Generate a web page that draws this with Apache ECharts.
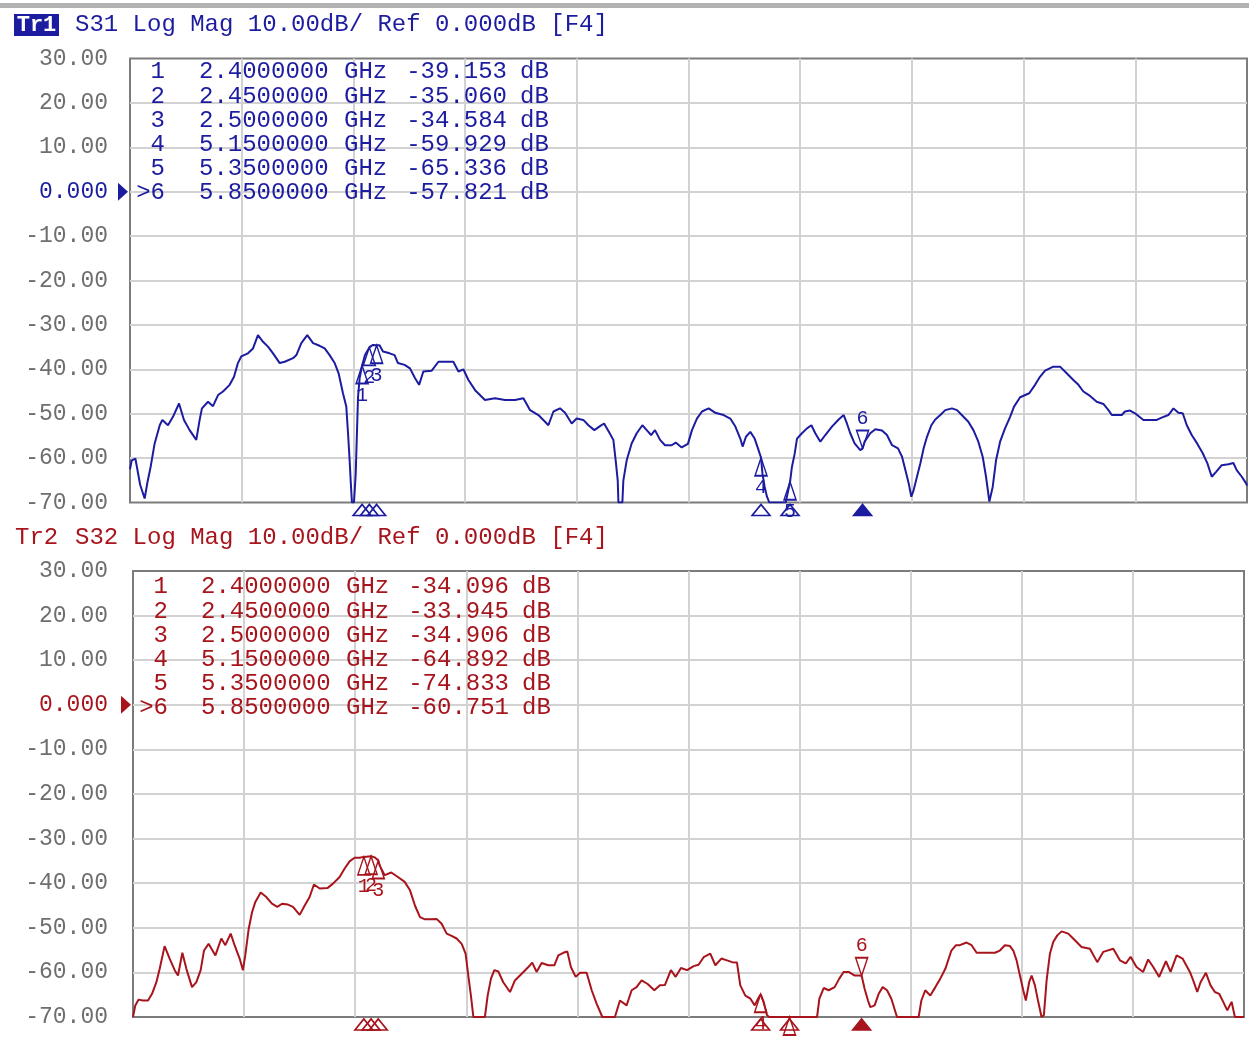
<!DOCTYPE html>
<html><head><meta charset="utf-8">
<script src="https://cdn.jsdelivr.net/npm/echarts@6/dist/echarts.min.js"></script>
<style>html,body{margin:0;padding:0;background:#fff;}#c{width:1249px;height:1039px;}</style>
</head><body><div id="c"></div>
<script>
// ---------------- DATA ----------------
const freqStartGHz = 0.8, freqStopGHz = 8.5;
const yTicks = [30, 20, 10, 0, -10, -20, -30, -40, -50, -60, -70];

const markerLabels = ['1', '2', '3', '4', '5', '>6'];
const markerFreqs = [2.40, 2.45, 2.50, 5.15, 5.35, 5.85];
const s31MarkerDb = [-39.153, -35.060, -34.584, -59.929, -65.336, -57.821];
const s32MarkerDb = [-34.096, -33.945, -34.906, -64.892, -74.833, -60.751];

const s31Freq = [0.800,0.812,0.837,0.870,0.901,0.920,0.942,0.970,1.005,1.023,1.062,1.096,1.138,1.172,1.211,1.257,1.280,1.296,1.338,1.372,1.407,1.441,1.487,1.517,1.544,1.567,1.613,1.648,1.682,1.717,1.751,1.786,1.832,1.866,1.924,1.947,1.981,2.022,2.062,2.107,2.142,2.176,2.211,2.238,2.268,2.291,2.303,2.314,2.321,2.330,2.344,2.356,2.365,2.372,2.383,2.400,2.420,2.450,2.475,2.500,2.520,2.544,2.590,2.624,2.647,2.693,2.730,2.765,2.793,2.822,2.880,2.926,3.029,3.064,3.098,3.133,3.179,3.247,3.316,3.385,3.454,3.512,3.558,3.615,3.661,3.684,3.719,3.764,3.799,3.845,3.879,3.925,3.960,4.001,4.040,4.068,4.102,4.132,4.148,4.162,4.167,4.194,4.201,4.224,4.258,4.293,4.332,4.362,4.392,4.419,4.454,4.488,4.534,4.562,4.603,4.646,4.674,4.708,4.743,4.789,4.835,4.892,4.938,4.973,5.007,5.023,5.046,5.076,5.106,5.129,5.150,5.160,5.175,5.191,5.207,5.294,5.320,5.350,5.363,5.382,5.398,5.432,5.467,5.497,5.524,5.559,5.593,5.639,5.685,5.720,5.742,5.765,5.795,5.834,5.850,5.864,5.903,5.938,5.984,6.018,6.053,6.094,6.122,6.145,6.168,6.186,6.202,6.225,6.248,6.271,6.294,6.324,6.351,6.386,6.420,6.466,6.501,6.522,6.579,6.614,6.648,6.678,6.701,6.724,6.747,6.770,6.798,6.832,6.867,6.894,6.936,6.999,7.039,7.073,7.108,7.165,7.211,7.257,7.303,7.338,7.372,7.418,7.464,7.510,7.545,7.568,7.637,7.659,7.694,7.728,7.786,7.878,7.912,7.958,7.993,8.027,8.057,8.085,8.119,8.158,8.195,8.227,8.257,8.287,8.326,8.372,8.406,8.429,8.464,8.494,8.500];
const s31Db = [-62.5,-60.5,-60.1,-66.0,-69.1,-65.5,-62.0,-56.7,-52.6,-51.4,-52.6,-50.7,-47.7,-51.4,-53.7,-55.9,-51.4,-48.8,-47.3,-48.3,-45.8,-45.0,-43.5,-41.7,-38.6,-37.1,-36.4,-35.3,-32.3,-33.8,-34.9,-36.4,-38.6,-38.3,-37.5,-36.8,-34.1,-32.3,-34.1,-34.7,-35.3,-36.8,-38.6,-40.9,-45.4,-48.4,-54.4,-60.5,-65.0,-70,-70,-63.5,-53.7,-46.2,-42.0,-39.15,-36.8,-35.06,-34.5,-34.58,-34.6,-36.0,-36.4,-36.8,-38.6,-39.0,-39.8,-42.0,-43.5,-40.5,-40.3,-38.3,-38.3,-40.5,-40.0,-42.4,-44.7,-46.9,-46.5,-46.9,-46.9,-46.5,-49.2,-50.3,-51.8,-52.6,-49.5,-48.8,-49.8,-52.2,-51.1,-51.4,-52.6,-53.7,-52.8,-52.2,-54.1,-55.9,-60.5,-65.0,-70,-70,-65.0,-60.5,-56.7,-54.4,-52.6,-53.7,-54.8,-53.7,-55.9,-57.1,-57.1,-56.5,-57.6,-56.8,-53.7,-51.1,-49.5,-48.8,-49.8,-50.3,-51.1,-52.9,-55.6,-57.4,-55.2,-54.1,-55.6,-57.8,-59.93,-63.5,-66.5,-68.7,-70,-70,-70,-65.34,-62.0,-59.0,-55.6,-54.4,-53.3,-52.6,-54.4,-56.3,-54.8,-52.9,-51.3,-50.3,-52.2,-54.4,-56.7,-58.2,-57.82,-56.3,-54.4,-53.5,-53.8,-54.8,-57.1,-57.8,-59.7,-62.7,-65.7,-68.7,-67.2,-64.2,-61.2,-57.8,-55.2,-52.6,-51.3,-50.3,-49.2,-48.8,-49.2,-49.9,-51.8,-53.7,-56.3,-59.7,-64.2,-69.8,-66.5,-60.5,-56.3,-53.3,-50.7,-48.4,-46.3,-45.4,-43.5,-41.7,-40.3,-39.4,-39.4,-40.9,-42.4,-43.5,-45.0,-46.0,-47.3,-47.8,-49.2,-50.3,-50.3,-49.5,-49.3,-49.9,-51.4,-51.4,-50.9,-50.3,-48.8,-49.8,-49.9,-52.6,-54.8,-56.8,-58.9,-61.2,-64.2,-63.1,-61.6,-61.4,-61.1,-62.7,-64.2,-65.7,-66.2];

const s32Freq = [0.800,0.816,0.839,0.869,0.904,0.932,0.962,0.985,1.019,1.054,1.089,1.112,1.142,1.170,1.209,1.239,1.269,1.292,1.324,1.371,1.412,1.440,1.477,1.504,1.539,1.562,1.578,1.602,1.625,1.648,1.685,1.724,1.763,1.800,1.833,1.874,1.909,1.955,1.990,2.024,2.054,2.094,2.147,2.186,2.232,2.267,2.301,2.336,2.370,2.400,2.450,2.475,2.500,2.509,2.544,2.590,2.636,2.683,2.720,2.754,2.789,2.824,2.870,2.904,2.939,2.974,3.008,3.043,3.078,3.105,3.124,3.142,3.159,3.239,3.258,3.281,3.304,3.332,3.366,3.413,3.447,3.494,3.540,3.567,3.597,3.632,3.678,3.720,3.748,3.782,3.810,3.835,3.868,3.898,3.944,3.979,4.013,4.053,4.140,4.175,4.221,4.256,4.290,4.325,4.367,4.413,4.452,4.487,4.528,4.561,4.598,4.640,4.686,4.720,4.755,4.801,4.836,4.878,4.917,4.952,4.986,5.009,5.044,5.079,5.109,5.132,5.150,5.171,5.194,5.210,5.350,5.541,5.557,5.587,5.621,5.663,5.695,5.725,5.760,5.802,5.829,5.850,5.871,5.894,5.910,5.940,5.968,5.996,6.026,6.056,6.095,6.245,6.264,6.291,6.326,6.361,6.395,6.430,6.472,6.504,6.531,6.577,6.612,6.647,6.704,6.774,6.808,6.843,6.878,6.901,6.924,6.947,6.970,6.988,7.011,7.028,7.051,7.074,7.097,7.113,7.132,7.155,7.178,7.206,7.236,7.282,7.328,7.374,7.432,7.483,7.524,7.594,7.640,7.681,7.714,7.755,7.801,7.836,7.871,7.912,7.959,7.991,8.033,8.074,8.125,8.148,8.176,8.199,8.236,8.268,8.298,8.328,8.356,8.384,8.414,8.437,8.500];
const s32Db = [-70,-67.4,-66.1,-66.3,-66.3,-64.8,-62.2,-59.2,-54.1,-56.9,-59.5,-60.7,-55.6,-59.2,-63.3,-62.2,-59.5,-55.1,-53.6,-56.2,-52.4,-53.9,-51.3,-53.9,-56.9,-59.5,-56.2,-50.2,-46.5,-44.2,-42.1,-43.1,-44.6,-45.3,-44.6,-44.8,-45.3,-47.1,-45.0,-43.1,-40.3,-41.2,-41.1,-40.1,-38.6,-36.7,-35.1,-34.3,-34.3,-34.10,-33.95,-34.2,-34.91,-36.0,-38.2,-37.6,-38.6,-39.7,-41.6,-45.0,-47.6,-48.1,-48.1,-48.0,-49.1,-51.3,-51.8,-52.4,-53.6,-55.8,-60.7,-65.2,-70,-70,-65.2,-61.4,-59.5,-59.8,-62.2,-64.4,-61.8,-60.3,-58.8,-57.8,-59.9,-57.9,-58.4,-58.4,-56.2,-55.6,-55.3,-58.8,-61.0,-60.1,-60.1,-64.0,-67.0,-70,-70,-66.3,-67.4,-64.0,-63.3,-61.8,-62.6,-64.0,-62.9,-62.8,-59.5,-61.0,-59.0,-59.5,-58.6,-58.3,-56.6,-55.8,-58.4,-56.9,-57.3,-57.7,-57.8,-62.9,-65.2,-65.9,-67.4,-65.9,-64.89,-66.6,-69.6,-70,-70,-70,-65.9,-63.5,-64.0,-63.3,-61.4,-59.9,-59.9,-60.7,-60.7,-60.75,-63.7,-66.3,-67.8,-67.4,-64.8,-63.3,-64.0,-65.9,-70,-70,-66.3,-64.0,-65.2,-63.3,-61.4,-59.2,-55.1,-53.9,-53.9,-53.3,-53.9,-55.6,-55.6,-55.6,-55.1,-53.9,-54.1,-55.1,-57.3,-60.7,-64.0,-66.3,-62.2,-60.7,-62.9,-66.6,-70,-69.6,-61.8,-55.8,-53.2,-51.7,-50.8,-51.3,-52.8,-54.3,-54.7,-57.7,-55.4,-54.7,-57.3,-58.0,-56.5,-58.8,-59.9,-57.1,-58.8,-61.0,-57.5,-59.9,-56.2,-56.9,-59.9,-61.8,-64.4,-62.2,-60.1,-62.9,-64.4,-64.8,-66.6,-68.5,-66.6,-70,-70];

// ---------------- STYLE / LAYOUT ----------------
const MONO = '"Liberation Mono", "DejaVu Sans Mono", monospace';
const BLUE = '#1c1ca0', RED = '#a8141c', GRAY = '#6e6e6e';
const panels = [
  { grid: {left: 130, top: 58.5, width: 1117, height: 444}, color: BLUE, tr: 'Tr1', trBox: true,
    title: 'S31 Log Mag 10.00dB/ Ref 0.000dB [F4]', titleX: 75, headerY: 25,
    freqs: s31Freq, db: s31Db, mk: s31MarkerDb,
    tableTop: 72, numRight: 165, freqLeft: 199, ghzLeft: 344, valRight: 507, dbLeft: 520, labelMargin: 22 },
  { grid: {left: 133, top: 571, width: 1111, height: 446}, color: RED, tr: 'Tr2', trBox: false,
    title: 'S32 Log Mag 10.00dB/ Ref 0.000dB [F4]', titleX: 75, headerY: 538,
    freqs: s32Freq, db: s32Db, mk: s32MarkerDb,
    tableTop: 587, numRight: 168, freqLeft: 201, ghzLeft: 346, valRight: 509, dbLeft: 522, labelMargin: 25 }
];

const UP = 'path://M5,0 L10,16 L0,16 Z';
const DOWN = 'path://M0,0 L10,0 L5,16 Z';

const grids = [], xAxes = [], yAxes = [], series = [];
panels.forEach((p, i) => {
  grids.push(Object.assign({show: true, borderColor: '#7c7c7c', borderWidth: 2, backgroundColor: '#fff'}, p.grid));
  xAxes.push({type: 'value', gridIndex: i, min: freqStartGHz, max: freqStopGHz,
    axisLine: {show: false}, axisTick: {show: false}, axisLabel: {show: false}, splitLine: {show: false}});
  xAxes.push({type: 'value', gridIndex: i, min: 0, max: 10, interval: 1,
    axisLine: {show: false}, axisTick: {show: false}, axisLabel: {show: false},
    splitLine: {show: true, showMinLine: false, showMaxLine: false, lineStyle: {color: '#d2d2d2', width: 2}}});
  yAxes.push({type: 'value', gridIndex: i, min: yTicks[yTicks.length - 1], max: yTicks[0], interval: 10,
    axisLine: {show: false}, axisTick: {show: false},
    splitLine: {show: true, showMinLine: false, showMaxLine: false, lineStyle: {color: '#d2d2d2', width: 2}},
    axisLabel: {margin: p.labelMargin, fontFamily: MONO, fontSize: 23, color: GRAY,
      formatter: v => v === 0 ? '{ref|0.000}' : v.toFixed(2),
      rich: {ref: {fontFamily: MONO, fontSize: 23, color: p.color}}}});

  series.push({type: 'line', xAxisIndex: 2 * i, yAxisIndex: i, showSymbol: false, clip: true,
    data: p.freqs.map((f, j) => [f, p.db[j]]), lineStyle: {color: p.color, width: 2}, z: 3});

  const lblStyle = {show: true, fontFamily: MONO, fontSize: 20, color: p.color, distance: 1};
  const openStyle = {color: 'rgba(0,0,0,0)', borderColor: p.color, borderWidth: 1.6, opacity: 1};
  series.push({type: 'scatter', xAxisIndex: 2 * i, yAxisIndex: i, clip: false, z: 4,
    symbol: UP, symbolSize: [12, 18], symbolOffset: [0, 9], itemStyle: openStyle,
    label: Object.assign({position: 'bottom', formatter: d => d.data.name}, lblStyle),
    data: markerFreqs.slice(0, 5).map((f, k) => ({name: markerLabels[k], value: [f, Math.max(p.mk[k], -70)]}))});
  series.push({type: 'scatter', xAxisIndex: 2 * i, yAxisIndex: i, clip: false, z: 4,
    symbol: DOWN, symbolSize: [12, 18], symbolOffset: [0, -9], itemStyle: openStyle,
    label: Object.assign({position: 'top', formatter: '6'}, lblStyle),
    data: [{value: [markerFreqs[5], Math.max(p.mk[5], -70)]}]});
  series.push({type: 'scatter', xAxisIndex: 2 * i, yAxisIndex: i, clip: false, z: 4,
    symbol: UP, symbolSize: [18, 11], symbolOffset: [0, 7.5], itemStyle: openStyle,
    data: markerFreqs.map((f, k) => k === 5
      ? {value: [f, -70], itemStyle: {color: p.color, borderColor: p.color, opacity: 1}}
      : {value: [f, -70]})});
});

const chart = echarts.init(document.getElementById('c'));
chart.setOption({animation: false, grid: grids, xAxis: xAxes, yAxis: yAxes, series: series});

// ---------------- TEXT / DECORATION ----------------
const graphics = [];
graphics.push({type: 'rect', shape: {x: 0, y: 3, width: 1249, height: 5}, style: {fill: '#b2b2b2'}});
panels.forEach((p, i) => {
  if (p.trBox) {
    graphics.push({type: 'rect', shape: {x: 14, y: 14, width: 45, height: 22}, style: {fill: p.color}});
    graphics.push({type: 'text', x: 36.5, y: p.headerY, style: {text: p.tr, fill: '#fff', font: 'bold 22px ' + MONO, textAlign: 'center', textVerticalAlign: 'middle'}});
  } else {
    graphics.push({type: 'text', x: 15, y: p.headerY, style: {text: p.tr, fill: p.color, font: '24px ' + MONO, textAlign: 'left', textVerticalAlign: 'middle'}});
  }
  graphics.push({type: 'text', x: p.titleX, y: p.headerY, style: {text: p.title, fill: p.color, font: '24px ' + MONO, textAlign: 'left', textVerticalAlign: 'middle'}});
  markerLabels.forEach((m, r) => {
    const y = p.tableTop + r * 24.2;
    const f = '24px ' + MONO;
    const t = (x, s, a) => graphics.push({type: 'text', x: x, y: y, z: 10, style: {text: s, fill: p.color, font: f, textAlign: a, textVerticalAlign: 'middle'}});
    t(p.numRight, m, 'right');
    t(p.freqLeft, markerFreqs[r].toFixed(7), 'left');
    t(p.ghzLeft, 'GHz', 'left');
    t(p.valRight, p.mk[r].toFixed(3), 'right');
    t(p.dbLeft, 'dB', 'left');
  });
  const pt = chart.convertToPixel({xAxisIndex: 2 * i, yAxisIndex: i}, [freqStartGHz, 0]);
  graphics.push({type: 'polygon', shape: {points: [[pt[0] - 12, pt[1] - 9], [pt[0] - 12, pt[1] + 9], [pt[0] - 2, pt[1]]]}, style: {fill: p.color}});
});
chart.setOption({graphic: graphics});
</script>
</body></html>
